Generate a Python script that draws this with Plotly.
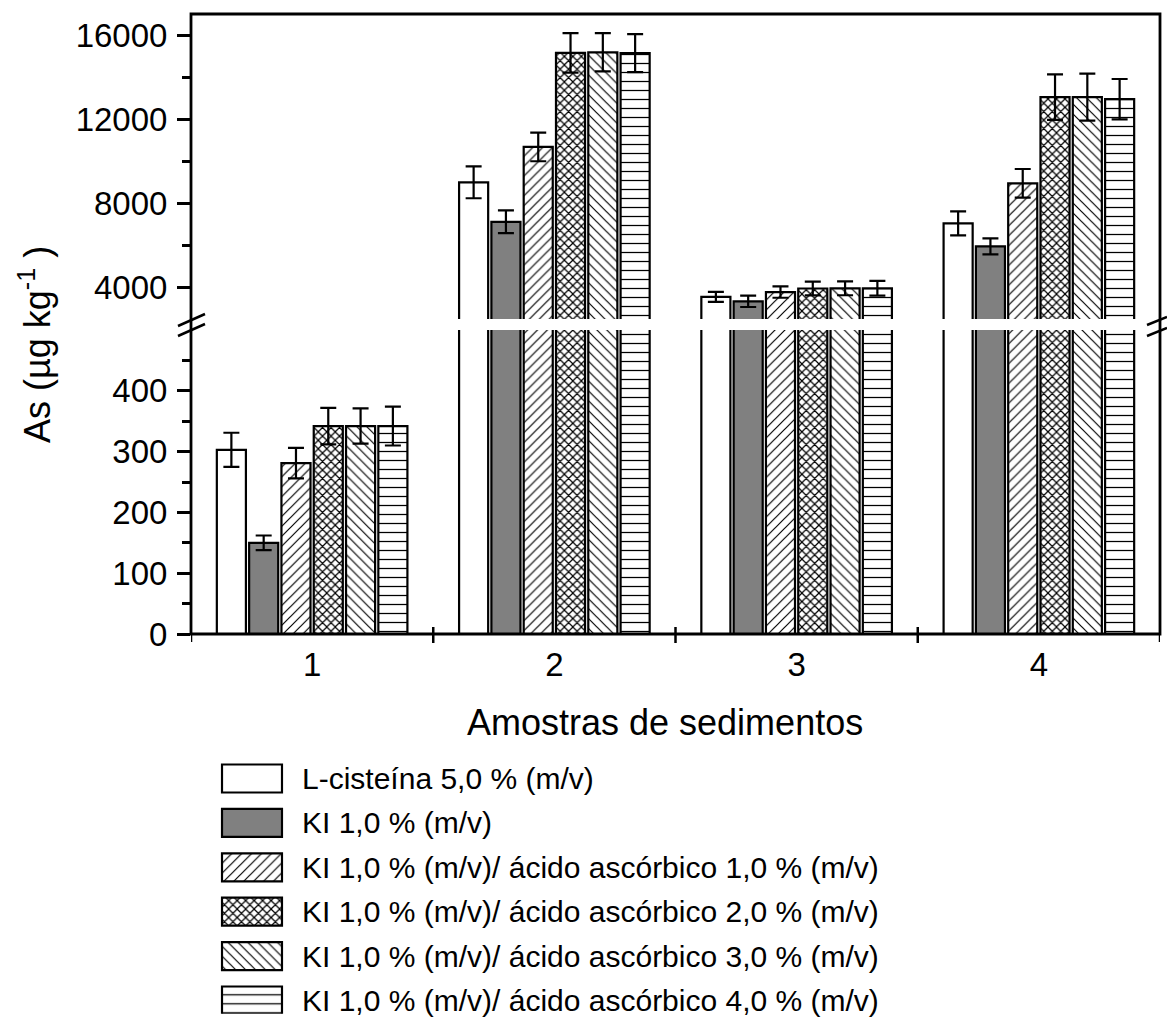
import plotly.graph_objects as go

W, H = 1167, 1018

# ---------------- data ----------------
categories = [1, 2, 3, 4]
series_names = [
    "L-cisteína 5,0 % (m/v)",
    "KI 1,0 % (m/v)",
    "KI 1,0 % (m/v)/ ácido ascórbico 1,0 % (m/v)",
    "KI 1,0 % (m/v)/ ácido ascórbico 2,0 % (m/v)",
    "KI 1,0 % (m/v)/ ácido ascórbico 3,0 % (m/v)",
    "KI 1,0 % (m/v)/ ácido ascórbico 4,0 % (m/v)",
]
cisteina_5 = [303, 9000, 3550, 7050]
ki_1 = [150, 7120, 3340, 5950]
ki_aa_1 = [281, 10680, 3780, 8950]
ki_aa_2 = [342, 15150, 3950, 13050]
ki_aa_3 = [342, 15180, 3960, 13050]
ki_aa_4 = [342, 15140, 3960, 12950]

cisteina_5_err = [28, 760, 240, 570]
ki_1_err = [12, 540, 270, 380]
ki_aa_1_err = [25, 680, 270, 680]
ki_aa_2_err = [30, 940, 330, 1080]
ki_aa_3_err = [29, 910, 330, 1120]
ki_aa_4_err = [32, 900, 350, 960]

values = [cisteina_5, ki_1, ki_aa_1, ki_aa_2, ki_aa_3, ki_aa_4]
errors = [cisteina_5_err, ki_1_err, ki_aa_1_err, ki_aa_2_err, ki_aa_3_err, ki_aa_4_err]

lower_ticks = [0, 100, 200, 300, 400]
lower_minor = [50, 150, 250, 350, 450]
upper_ticks = [4000, 8000, 12000, 16000]
upper_minor = [6000, 10000, 14000]
LOWER_MAX = 500
UPPER_MIN, UPPER_MAX = 2500, 17000

# ---------------- styles ----------------
FONT = "Liberation Sans, Arial, sans-serif"
fills = ["white", "#808080", "white", "white", "white", "white"]
pat_shapes = ["", "", "/", "x", "\\", "-"]
pat_sizes = [8, 8, 7, 6, 7, 9]
pat_solid = [0.2, 0.2, 0.17, 0.36, 0.17, 0.14]


def px_x(p):
    return p / W


def px_y(p):
    return 1 - p / H


def make_marker(s):
    m = dict(color=fills[s], line=dict(color="black", width=2.2))
    if pat_shapes[s]:
        m["pattern"] = dict(shape=pat_shapes[s], size=pat_sizes[s], solidity=pat_solid[s],
                            fgcolor="black", bgcolor="white", fillmode="replace")
    return m


LEFT, RIGHT, TOP, BOTTOM = 191, 1160, 14, 634
LOW_TOP, UP_BOTTOM = 330, 319

fig = go.Figure()

for s in range(6):
    err_low = [e if v <= LOWER_MAX else None for v, e in zip(values[s], errors[s])]
    err_up = [e if v > LOWER_MAX else None for v, e in zip(values[s], errors[s])]
    for ax, errs in (("y", err_low), ("y2", err_up)):
        fig.add_trace(go.Bar(
            x=categories, y=values[s], name=series_names[s], xaxis="x", yaxis=ax,
            marker=make_marker(s), showlegend=False,
            error_y=dict(type="data", array=errs, visible=True, color="black",
                         thickness=2.2, width=8),
        ))

# legend drawn as a small bar subplot (one swatch per series)
for s in range(6):
    fig.add_trace(go.Bar(
        y=[s], x=[1], orientation="h", xaxis="x3", yaxis="y3",
        width=0.63, offset=-0.315, showlegend=False, hoverinfo="skip",
        marker=make_marker(s),
    ))

tick_font = dict(family=FONT, size=33, color="black")

fig.update_layout(
    width=W, height=H,
    margin=dict(l=0, r=0, t=0, b=0),
    paper_bgcolor="white", plot_bgcolor="white",
    barmode="group", bargap=0.2, bargroupgap=0.1,
    showlegend=False,
    xaxis=dict(domain=[px_x(LEFT), px_x(RIGHT)], range=[0.5, 4.5], anchor="y",
               tickvals=categories, ticktext=[str(c) for c in categories],
               ticks="", tickfont=tick_font, showline=False, showgrid=False,
               zeroline=False, automargin=False, ticklabelstandoff=8),
    yaxis=dict(domain=[px_y(BOTTOM), px_y(LOW_TOP)], range=[0, LOWER_MAX], anchor="x",
               tickvals=lower_ticks, ticktext=[str(t) for t in lower_ticks],
               ticks="outside", ticklen=13, tickwidth=2.5,
               tickcolor="black", tickfont=tick_font, showline=False, showgrid=False,
               zeroline=False, automargin=False, ticklabelstandoff=3,
               minor=dict(tickvals=lower_minor, ticks="outside", ticklen=8,
                          tickwidth=2.5, tickcolor="black")),
    yaxis2=dict(domain=[px_y(UP_BOTTOM), px_y(TOP)], range=[UPPER_MIN, UPPER_MAX], anchor="x",
                tickvals=upper_ticks, ticktext=[str(t) for t in upper_ticks],
                ticks="outside", ticklen=13, tickwidth=2.5,
                tickcolor="black", tickfont=tick_font, showline=False, showgrid=False,
                zeroline=False, automargin=False, ticklabelstandoff=3,
                minor=dict(tickvals=upper_minor, ticks="outside", ticklen=8,
                           tickwidth=2.5, tickcolor="black")),
    xaxis3=dict(domain=[px_x(220.2), px_x(283.8)], range=[-0.03, 1.03], anchor="y3",
                visible=False),
    yaxis3=dict(domain=[px_y(1013.8), px_y(756.3)], range=[5.3, -0.5], anchor="x3",
                visible=False),
)

# frame
fig.add_shape(type="rect", xref="paper", yref="paper",
              x0=px_x(LEFT), x1=px_x(RIGHT), y0=px_y(BOTTOM), y1=px_y(TOP),
              line=dict(color="black", width=2.8), layer="above")

# crossing ticks on x axis between groups
for xv in [1.5, 2.5, 3.5]:
    fig.add_shape(type="line", xref="x", yref="paper", x0=xv, x1=xv,
                  y0=px_y(643), y1=px_y(627), line=dict(color="black", width=2.5))
for xv in [0.5, 4.5]:
    fig.add_shape(type="line", xref="x", yref="paper", x0=xv, x1=xv,
                  y0=px_y(642), y1=px_y(BOTTOM), line=dict(color="black", width=2.5))

# axis break marks
for (x0, y0, x1, y1) in [(178, 326, 205, 314), (178, 336, 205, 324),
                         (1147, 325, 1167, 317), (1147, 336, 1167, 328)]:
    fig.add_shape(type="line", xref="paper", yref="paper",
                  x0=px_x(x0), y0=px_y(y0), x1=px_x(x1), y1=px_y(y1),
                  line=dict(color="black", width=2.5))

# axis titles
fig.add_annotation(text="Amostras de sedimentos", xref="paper", yref="paper",
                   x=px_x(665), y=px_y(722), showarrow=False,
                   font=dict(family=FONT, size=36, color="black"),
                   xanchor="center", yanchor="middle")
fig.add_annotation(text="As (µg kg<sup>-1</sup> )", xref="paper", yref="paper",
                   x=px_x(35), y=px_y(345), showarrow=False, textangle=-90,
                   font=dict(family=FONT, size=36, color="black"),
                   xanchor="center", yanchor="middle")

# legend labels
for s, name in enumerate(series_names):
    fig.add_annotation(text=name, xref="paper", yref="y3", x=px_x(300), y=s,
                       showarrow=False, xanchor="left", yanchor="middle",
                       font=dict(family=FONT, size=30, color="black"))

fig.write_html("out.html")
